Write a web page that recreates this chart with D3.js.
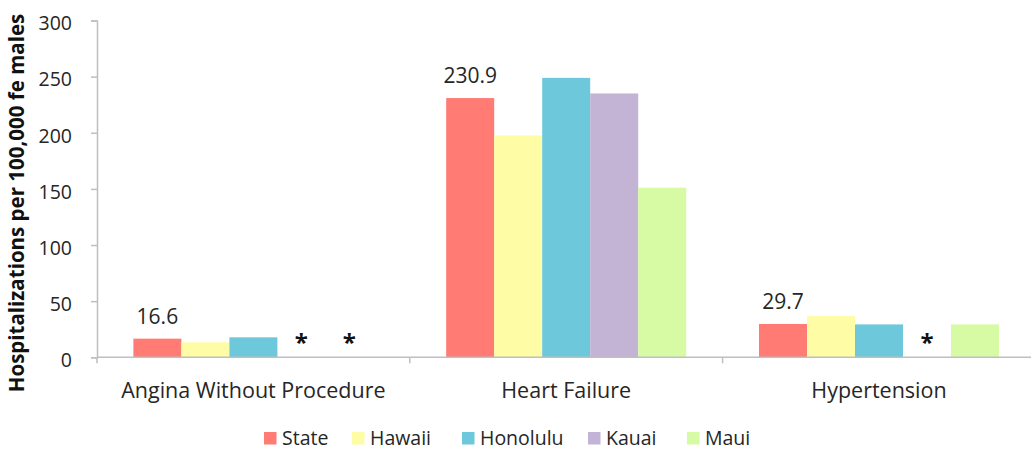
<!DOCTYPE html>
<html>
<head>
<meta charset="utf-8">
<script src="https://cdn.jsdelivr.net/npm/d3@7"></script>
<style>
  html, body { margin: 0; padding: 0; background: #fff; }
  svg { display: block; font-family: "Open Sans", "Noto Sans", sans-serif; }
</style>
</head>
<body>
<svg id="chart" width="1031" height="451"></svg>
<script>
// Hospitalization rates per 100,000 females, by condition and county
const categories = ["Angina Without Procedure", "Heart Failure", "Hypertension"];
const seriesNames = ["State", "Hawaii", "Honolulu", "Kauai", "Maui"];
const seriesColors = ["#ff7b74", "#fffca6", "#6cc8da", "#c3b3d5", "#d6fba4"];
// null = suppressed value, shown as "*"
const stateValues    = [16.6, 230.9, 29.7];
const hawaiiValues   = [13.3, 197.6, 36.7];
const honoluluValues = [17.8, 248.9, 29.3];
const kauaiValues    = [null, 235.0, null];
const mauiValues     = [null, 151.1, 29.3];
const yTicks = [0, 50, 100, 150, 200, 250, 300];
const yTitle = "Hospitalizations per 100,000 fe males";

const seriesValues = [stateValues, hawaiiValues, honoluluValues, kauaiValues, mauiValues];
const rows = [];
categories.forEach((c, ci) => {
  seriesNames.forEach((s, si) => {
    rows.push({ category: c, series: s, value: seriesValues[si][ci], labelled: si === 0 });
  });
});

const svg = d3.select("#chart");
const axisColor = "#bfbfbf";
const textColor = "#262626";

const x0 = d3.scaleBand().domain(categories).range([97, 1035.4]).paddingInner(0).paddingOuter(0);
const x1 = d3.scaleBand().domain(seriesNames).range([0, x0.bandwidth()]).paddingInner(0).paddingOuter(0.758);
const y = d3.scaleLinear().domain([0, 300]).range([357.3, 20.5]);
const color = d3.scaleOrdinal().domain(seriesNames).range(seriesColors);

// Bars
svg.append("g").selectAll("rect")
  .data(rows.filter(d => d.value !== null))
  .join("rect")
  .attr("x", d => x0(d.category) + x1(d.series))
  .attr("y", d => y(d.value))
  .attr("width", x1.bandwidth())
  .attr("height", d => y(0) - y(d.value))
  .attr("fill", d => color(d.series));

// Y axis
const yAxis = svg.append("g").attr("transform", "translate(97,0)")
  .call(d3.axisLeft(y).tickValues(yTicks).tickSize(6).tickPadding(19).tickFormat(d3.format("d")));
yAxis.select(".domain").attr("stroke", axisColor).attr("stroke-width", 1.5);
yAxis.selectAll(".tick line").attr("stroke", axisColor).attr("stroke-width", 1.5);
yAxis.selectAll(".tick text").attr("fill", textColor).attr("font-size", 19.5)
  .attr("font-family", "Open Sans").attr("y", 3);

// X axis with ticks at category boundaries
const xAxisG = svg.append("g").attr("transform", `translate(0,${y(0)})`);
xAxisG.append("line").attr("x1", 97).attr("x2", 1031).attr("y1", 0).attr("y2", 0)
  .attr("stroke", axisColor).attr("stroke-width", 1.5);
const boundaries = categories.map(c => x0(c)).concat([x0(categories[categories.length - 1]) + x0.bandwidth()]);
xAxisG.selectAll("line.bt").data(boundaries).join("line").attr("class", "bt")
  .attr("x1", d => d).attr("x2", d => d).attr("y1", 0).attr("y2", 6)
  .attr("stroke", axisColor).attr("stroke-width", 1.5);
xAxisG.selectAll("text").data(categories).join("text")
  .attr("x", d => x0(d) + x0.bandwidth() / 2)
  .attr("y", 41)
  .attr("text-anchor", "middle")
  .attr("fill", textColor)
  .attr("font-size", 21.5)
  .text(d => d);

// Value labels for State bars, "*" for suppressed values
svg.append("g").selectAll("text.val")
  .data(rows.filter(d => d.labelled && d.value !== null))
  .join("text").attr("class", "val")
  .attr("x", d => x0(d.category) + x1(d.series) + x1.bandwidth() / 2)
  .attr("y", d => y(d.value) - 15)
  .attr("text-anchor", "middle")
  .attr("fill", textColor)
  .attr("font-size", 21)
  .text(d => d.value.toFixed(1));

svg.append("g").selectAll("text.star")
  .data(rows.filter(d => d.value === null))
  .join("text").attr("class", "star")
  .attr("x", d => x0(d.category) + x1(d.series) + x1.bandwidth() / 2)
  .attr("y", y(0) - 6)
  .attr("text-anchor", "middle")
  .attr("fill", "#111")
  .attr("font-size", 24)
  .attr("font-weight", "bold")
  .text("*");

// Y axis title
svg.append("text")
  .attr("transform", "translate(24,203) rotate(-90)")
  .attr("text-anchor", "middle")
  .attr("fill", "#111")
  .attr("font-size", 20.5)
  .attr("font-weight", "bold")
  .text(yTitle);

// Legend
const legendX = [264, 352, 462, 588, 687];
const legend = svg.append("g");
seriesNames.forEach((s, i) => {
  const g = legend.append("g").attr("transform", `translate(${legendX[i]},432)`);
  g.append("rect").attr("width", 12.5).attr("height", 12.5).attr("fill", color(s));
  g.append("text").attr("x", 18).attr("y", 13).attr("fill", textColor)
    .attr("font-size", 19.5).text(s);
});
</script>
</body>
</html>
